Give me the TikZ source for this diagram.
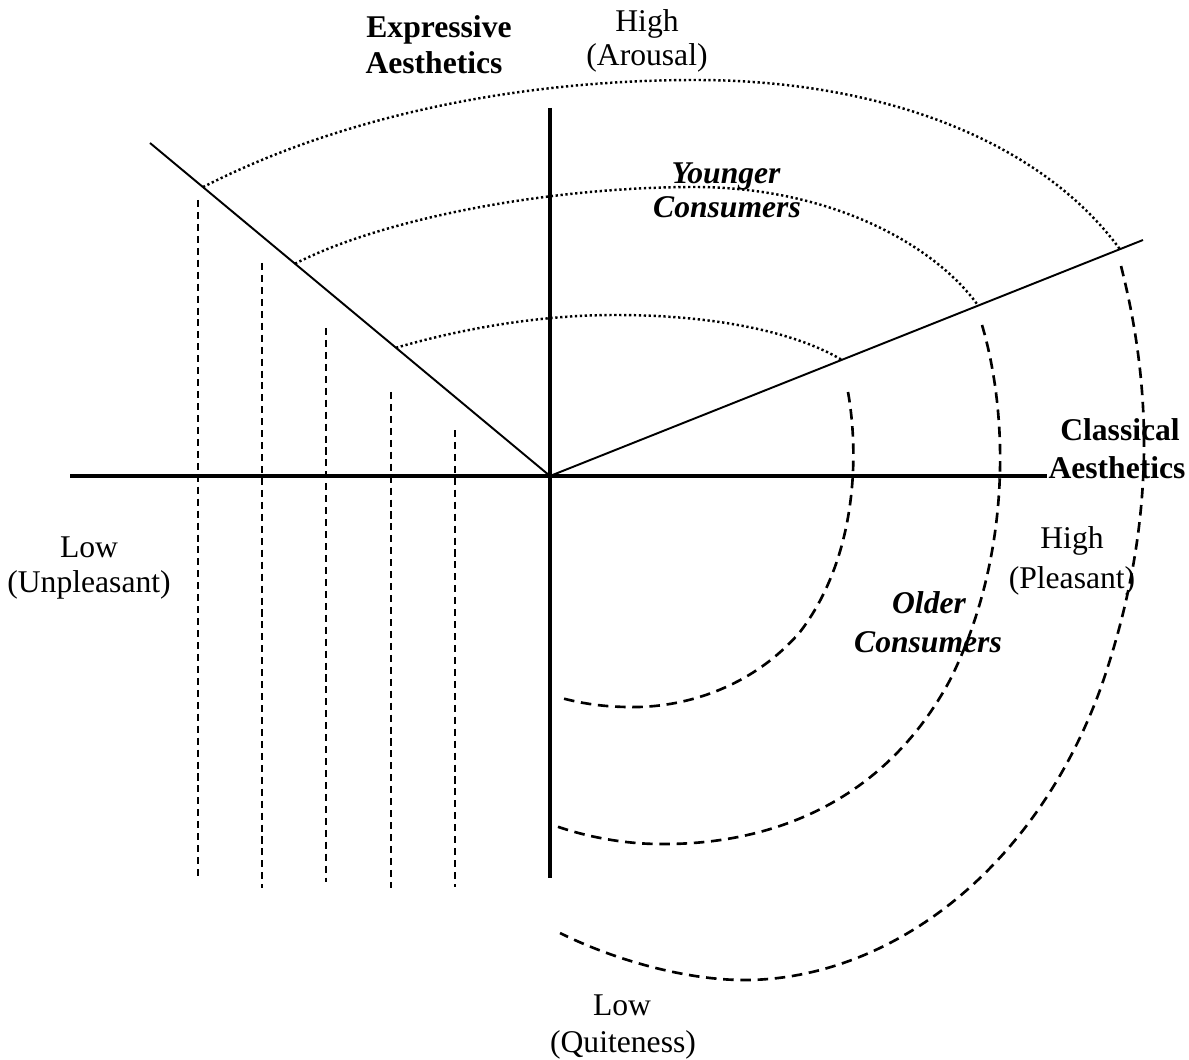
\documentclass[tikz,border=0pt]{standalone}
\usepackage{fontspec}
\setmainfont{Liberation Serif}
\usetikzlibrary{calc}
\begin{document}
\begin{tikzpicture}[x=0.02cm, y=-0.02cm,
  axis/.style={line width=2.4pt},
  diag/.style={line width=1.1pt},
  dotarc/.style={line width=1.4pt, dash pattern=on 1.3pt off 1.5pt},
  dasharc/.style={line width=1.5pt, dash pattern=on 6pt off 3.8pt},
  drop/.style={line width=1.1pt, dash pattern=on 4pt off 2.8pt},
  lbl/.style={inner sep=0pt, anchor=base, font=\fontsize{18}{19}\selectfont},
  bl/.style={lbl, font=\fontsize{18}{19}\selectfont\bfseries},
  bil/.style={lbl, font=\fontsize{18}{19}\selectfont\bfseries\itshape}]
\useasboundingbox (0,0) rectangle (1189,1060);

% axes and the two aesthetic directions
\coordinate (O) at (550,476);
\coordinate (xl) at (70,476);
\coordinate (xr) at (1047,476);
\coordinate (yt) at (550,108);
\coordinate (yb) at (550,878);
\coordinate (L) at (150,143);
\coordinate (R) at (1143,240);
\draw[axis] (xl) -- (xr);
\draw[axis] (yt) -- (yb);
\draw[diag] (O) -- (L);
\draw[diag] (O) -- (R);

% arc end points on the diagonals
\coordinate (a1) at ($(O)!0.8675!(L)$);
\coordinate (a2) at ($(O)!0.6375!(L)$);
\coordinate (a3) at ($(O)!0.385!(L)$);
\coordinate (b1) at ($(O)!0.961!(R)$);
\coordinate (b2) at ($(O)!0.722!(R)$);
\coordinate (b3) at ($(O)!0.492!(R)$);
\coordinate (p1) at (690,80);
\coordinate (p2) at (690,187);
\coordinate (p3) at (615,315);

% upper (dotted) parts of the arcs
\draw[dotarc] (a1) .. controls (330,122) and (500,81) .. (p1)
                   .. controls (880,79) and (1040,140) .. (b1);
\draw[dotarc] (a2) .. controls (380,220) and (540,188) .. (p2)
                   .. controls (830,186) and (935,245) .. (b2);
\draw[dotarc] (a3) .. controls (450,332) and (530,315) .. (p3)
                   .. controls (715,315) and (795,332) .. (b3);

% lower (dashed) parts of the arcs
\coordinate (c1) at (1121,266);
\coordinate (d1) at (560,933);
\coordinate (c2) at (982,325);
\coordinate (d2) at (553,825);
\coordinate (c3) at (848,392);
\coordinate (d3) at (558,697);
\draw[dasharc] (c1) .. controls (1150,380) and (1160,520) .. (1100,690)
                    .. controls (1030,880) and (880,982) .. (740,980)
                    .. controls (680,979) and (610,958) .. (d1);
\draw[dasharc] (c2) .. controls (1010,420) and (1010,560) .. (950,680)
                    .. controls (880,810) and (760,845) .. (660,844)
                    .. controls (620,844) and (580,835) .. (d2);
\draw[dasharc] (c3) .. controls (860,460) and (855,560) .. (800,632)
                    .. controls (750,690) and (680,708) .. (630,707)
                    .. controls (600,707) and (575,702) .. (d3);

% vertical drop lines
\draw[drop] (198,200) -- (198,880);
\draw[drop] (262,263) -- (262,888);
\draw[drop] (326,328) -- (326,882);
\draw[drop] (391,392) -- (391,888);
\draw[drop] (455,430) -- (455,887);

% labels
\node[bl] (expA) at (439,38) {Expressive};
\node[bl] (expB) at (434,74) {Aesthetics};
\node[lbl] (arA) at (647,32) {High};
\node[lbl] (arB) at (647,66) {(Arousal)};
\node[bil] (yoA) at (726,184) {Younger};
\node[bil] (yoB) at (727,218) {Consumers};
\node[bl] (clA) at (1120,440) {Classical};
\node[bl] (clB) at (1117,478) {Aesthetics};
\node[lbl] (plA) at (1072,548) {High};
\node[lbl] (plB) at (1072,588) {(Pleasant)};
\node[bil] (olA) at (929,613) {Older};
\node[bil] (olB) at (928,652) {Consumers};
\node[lbl] (unA) at (89,557) {Low};
\node[lbl] (unB) at (89,592) {(Unpleasant)};
\node[lbl] (quA) at (622,1015) {Low};
\node[lbl] (quB) at (623,1052) {(Quiteness)};
\end{tikzpicture}
\end{document}
